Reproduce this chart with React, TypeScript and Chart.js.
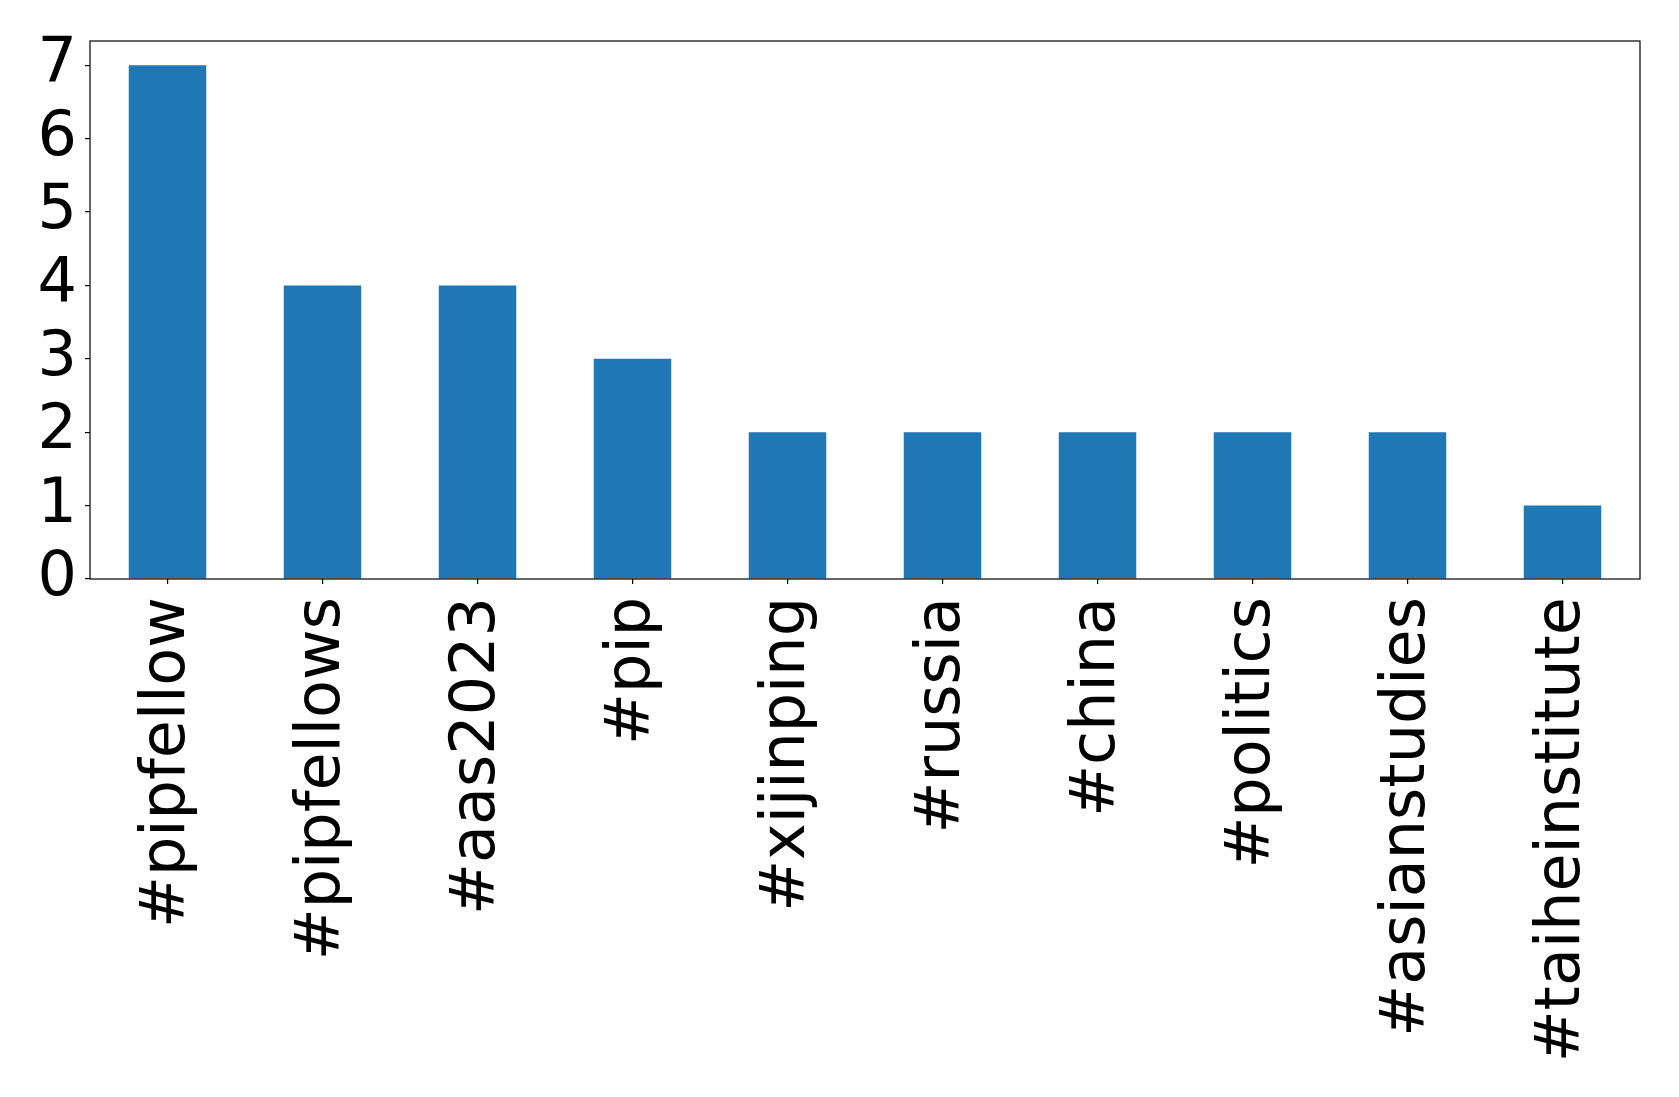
import React, { useEffect, useRef } from "react";
import { Chart, registerables } from "chart.js";

Chart.register(...registerables);

const categories = [
  "#pipfellow",
  "#pipfellows",
  "#aas2023",
  "#pip",
  "#xijinping",
  "#russia",
  "#china",
  "#politics",
  "#asianstudies",
  "#taiheinstitute",
];
const counts = [7, 4, 4, 3, 2, 2, 2, 2, 2, 1];
const yTicks = [0, 1, 2, 3, 4, 5, 6, 7];

const framePlugin = {
  id: "frame",
  afterDatasetsDraw(chart: any) {
    const { ctx, chartArea } = chart;
    ctx.save();
    ctx.strokeStyle = "#000";
    ctx.lineWidth = 1.2;
    ctx.strokeRect(
      chartArea.left,
      chartArea.top,
      chartArea.right - chartArea.left,
      chartArea.bottom - chartArea.top
    );
    ctx.restore();
  },
};

export default function App() {
  const ref = useRef<HTMLCanvasElement | null>(null);
  useEffect(() => {
    document.body.style.margin = "0";
    if (!ref.current) return;
    const font = { family: "'DejaVu Sans'", size: 62 };
    const chart = new Chart(ref.current, {
      type: "bar",
      data: {
        labels: categories,
        datasets: [
          {
            data: counts,
            backgroundColor: "#1f77b4",
            borderWidth: 0,
            categoryPercentage: 1,
            barPercentage: 0.5,
          },
        ],
      },
      plugins: [framePlugin],
      options: {
        animation: false,
        responsive: false,
        maintainAspectRatio: false,
        layout: { padding: { left: 0, top: 41, right: 39, bottom: 0 } },
        plugins: { legend: { display: false }, tooltip: { enabled: false } },
        scales: {
          x: {
            offset: true,
            grid: {
              display: true,
              drawOnChartArea: false,
              drawTicks: true,
              tickLength: 5,
              color: "#000",
              lineWidth: 1.2,
              offset: false,
            },
            border: { display: false },
            ticks: {
              autoSkip: false,
              minRotation: 90,
              maxRotation: 90,
              color: "#000",
              font,
              padding: 13,
            },
            afterFit(scale: any) {
              scale.height = 518;
              scale.paddingLeft = 0;
              scale.paddingRight = 0;
            },
          },
          y: {
            min: 0,
            max: 7.33,
            grid: {
              display: true,
              drawOnChartArea: false,
              drawTicks: true,
              tickLength: 5,
              color: "#000",
              lineWidth: 1.2,
            },
            border: { display: false },
            ticks: {
              autoSkip: false,
              stepSize: 1,
              color: "#000",
              font,
              padding: 8,
            },
            afterBuildTicks(scale: any) {
              scale.ticks = yTicks.map((v) => ({ value: v }));
            },
            afterFit(scale: any) {
              scale.width = 90;
              scale.paddingTop = 0;
              scale.paddingBottom = 0;
            },
          },
        },
      },
    });
    return () => chart.destroy();
  }, []);
  return (
    <div style={{ position: "absolute", left: 0, top: 0, width: 1679, height: 1097, background: "#fff" }}>
      <canvas ref={ref} width={1679} height={1097} style={{ width: 1679, height: 1097 }} />
    </div>
  );
}
